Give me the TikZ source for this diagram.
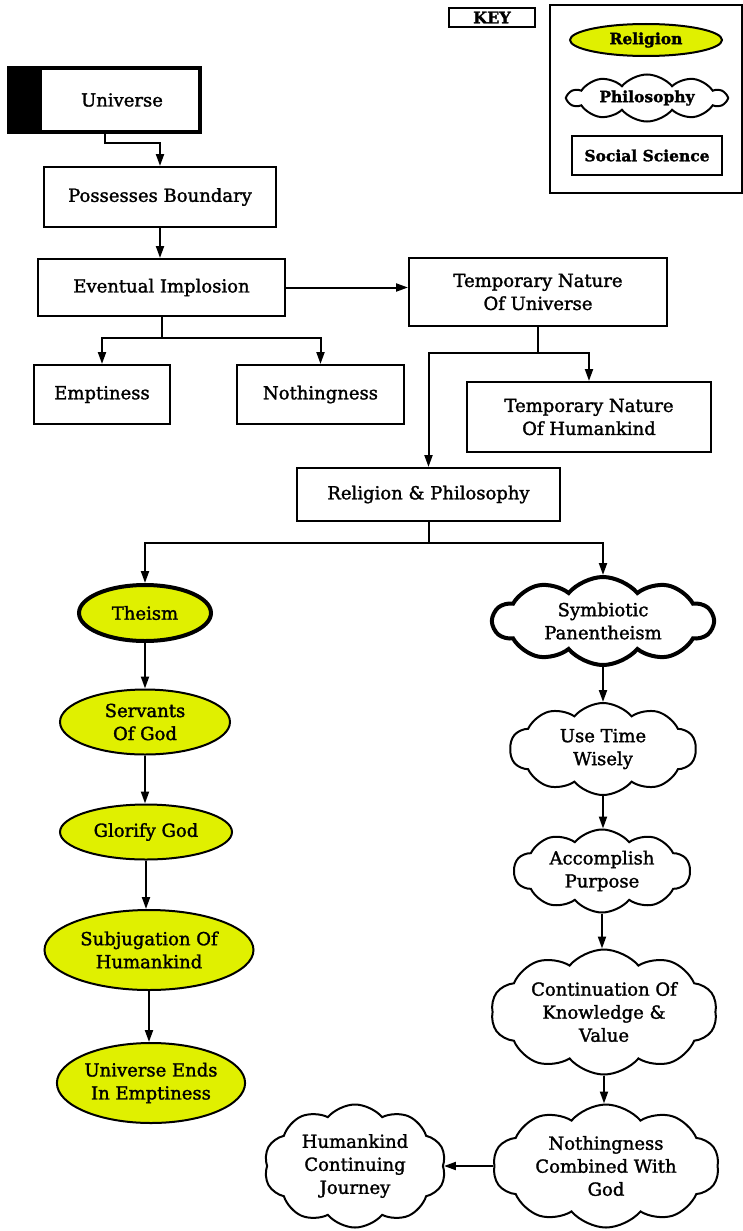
\documentclass[tikz,border=0pt]{standalone}
\usepackage{fontspec}
\setmainfont{DejaVu Serif}[FakeBold=1.6]
\usetikzlibrary{shapes.geometric,shapes.symbols,arrows.meta}
\definecolor{relyellow}{RGB}{224,240,0}
\tikzset{
  txt/.style={font=\fontsize{18}{23}\selectfont, align=center},
  keytxt/.style={font=\fontsize{15.5}{18}\selectfont\bfseries, align=center},
  sbox/.style={draw, line width=2pt, inner sep=0pt, txt},
  relnode/.style={ellipse, draw, fill=relyellow, line width=2pt, inner sep=0pt, txt},
  philnode/.style={cloud, cloud puffs=10, cloud puff arc=100, cloud ignores aspect, draw, line width=2pt, inner sep=0pt, txt},
  arr/.style={line width=2pt, -{Triangle[length=12pt,width=8pt]}},
}
\begin{document}
\begin{tikzpicture}[x=1pt,y=-1pt]
\useasboundingbox (0,0) rectangle (743,1231);
% key
\node[draw, line width=1.2pt, minimum width=86pt, minimum height=19pt, inner sep=0pt, keytxt, font=\fontsize{16}{18}\selectfont\bfseries] (keylabel) at (492,17.5) {KEY};
\node[draw, line width=1.2pt, minimum width=192pt, minimum height=188pt] (keyframe) at (646,99) {};
\node[relnode, keytxt, minimum width=152pt, minimum height=32pt] (keyrel) at (646,40) {Religion};
\node[philnode, keytxt, minimum width=158pt, minimum height=47pt] (keyphil) at (647,98) {Philosophy};
\node[sbox, keytxt, minimum width=150pt, minimum height=39pt] (keysoc) at (647,155.5) {Social Science};
% top boxes
\node[draw, line width=4pt, minimum width=191pt, minimum height=64pt] (universe) at (104.5,100) {};
\fill (universe.north west) rectangle ([xshift=35pt]universe.south west);
\node[txt] (universetxt) at (122,100) {Universe};
\node[sbox, minimum width=232pt, minimum height=60pt] (possesses) at (160,197) {Possesses Boundary};
\node[sbox, minimum width=247pt, minimum height=57pt] (eventual) at (161.5,287.5) {Eventual Implosion};
\node[sbox, minimum width=258pt, minimum height=68pt] (tempU) at (538,292) {Temporary Nature\\Of Universe};
\node[sbox, minimum width=136pt, minimum height=59pt] (emptiness) at (102,394.5) {Emptiness};
\node[sbox, minimum width=167pt, minimum height=59pt] (nothingness) at (320.5,394.5) {Nothingness};
\node[sbox, minimum width=244pt, minimum height=70pt] (tempH) at (589,417) {Temporary Nature\\Of Humankind};
\node[sbox, minimum width=263pt, minimum height=53pt] (relphil) at (428.5,494.5) {Religion \& Philosophy};
% religion column
\node[relnode, line width=4pt, minimum width=132pt, minimum height=56pt] (theism) at (145,613) {Theism};
\node[relnode, minimum width=170pt, minimum height=65pt] (servants) at (145,722) {Servants\\Of God};
\node[relnode, minimum width=172pt, minimum height=55pt] (glorify) at (146,832) {Glorify God};
\node[relnode, minimum width=209pt, minimum height=80pt] (subj) at (149,950) {Subjugation Of\\Humankind};
\node[relnode, minimum width=185pt, minimum height=80pt] (univends) at (151,1083) {Universe Ends\\In Emptiness};
% philosophy column
\node[philnode, line width=4pt, minimum width=220pt, minimum height=88pt] (symb) at (603,621) {Symbiotic\\Panentheism};
\node[philnode, minimum width=186pt, minimum height=92pt] (usetime) at (603,749) {Use Time\\Wisely};
\node[philnode, minimum width=176pt, minimum height=83pt] (accomp) at (602,871) {Accomplish\\Purpose};
\node[philnode, minimum width=226pt, minimum height=125pt] (contin) at (604,1012) {Continuation Of\\Knowledge \&\\Value};
\node[philnode, minimum width=226pt, minimum height=123pt] (nothgod) at (606,1166) {Nothingness\\Combined With\\God};
\node[philnode, minimum width=182pt, minimum height=123pt] (journey) at (355,1166) {Humankind\\Continuing\\Journey};
% connectors
\draw[arr] (universe.south) -- ++(0,9) -| (possesses.north);
\draw[arr] (possesses.south) -- (possesses.south |- eventual.north);
\draw[arr] (eventual.east) -- (eventual.east -| tempU.west);
\draw[arr] (eventual.south) -- ++(0,21) -| (emptiness.north);
\draw[arr] (eventual.south) -- ++(0,21) -| (nothingness.north);
\draw[arr] (tempU.south) -- ++(0,26) -| (tempH.north);
\draw[arr] (tempU.south) -- ++(0,26) -| (relphil.north);
\draw[arr] (relphil.south) -- ++(0,21) -| (theism.north);
\draw[arr] (relphil.south) -- ++(0,21) -| (symb.north);
\draw[arr] (theism.south) -- (theism.south |- servants.north);
\draw[arr] (servants.south) -- (servants.south |- glorify.north);
\draw[arr] (glorify.south) -- (glorify.south |- subj.north);
\draw[arr] (subj.south) -- (subj.south |- univends.north);
\draw[arr] (symb.south) -- (symb.south |- usetime.north);
\draw[arr] (usetime.south) -- (usetime.south |- accomp.north);
\draw[arr] (accomp.south) -- (accomp.south |- contin.north);
\draw[arr] (contin.south) -- (contin.south |- nothgod.north);
\draw[arr] (nothgod.west) -- (nothgod.west -| journey.east);
\end{tikzpicture}
\end{document}
